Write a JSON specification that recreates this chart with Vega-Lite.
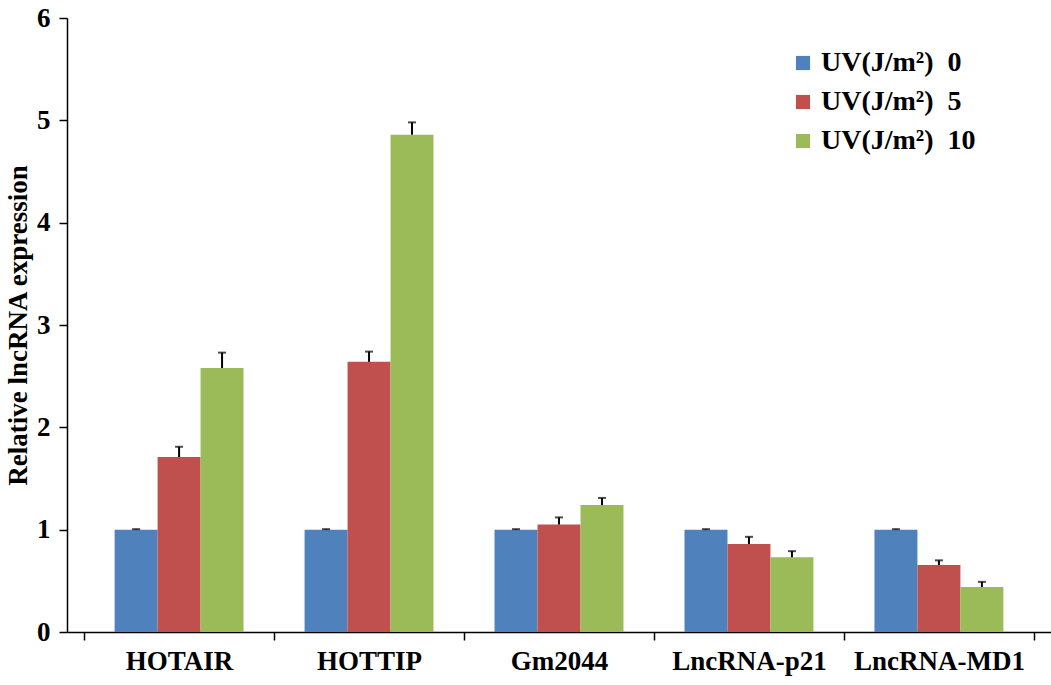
{
  "$schema": "https://vega.github.io/schema/vega-lite/v6.json",
  "width": 984,
  "height": 614,
  "autosize": {"type": "none"},
  "padding": {"left": 67, "top": 18, "right": 0, "bottom": 53},
  "background": "white",
  "config": {
    "view": {"stroke": null},
    "font": "Liberation Serif"
  },
  "data": {
    "values": [
      {"gene": "HOTAIR", "dose": "0", "value": 1.0, "upper": 1.005},
      {"gene": "HOTAIR", "dose": "5", "value": 1.71, "upper": 1.81},
      {"gene": "HOTAIR", "dose": "10", "value": 2.58, "upper": 2.73},
      {"gene": "HOTTIP", "dose": "0", "value": 1.0, "upper": 1.005},
      {"gene": "HOTTIP", "dose": "5", "value": 2.64, "upper": 2.74},
      {"gene": "HOTTIP", "dose": "10", "value": 4.86, "upper": 4.98},
      {"gene": "Gm2044", "dose": "0", "value": 1.0, "upper": 1.005},
      {"gene": "Gm2044", "dose": "5", "value": 1.05, "upper": 1.12},
      {"gene": "Gm2044", "dose": "10", "value": 1.24, "upper": 1.31},
      {"gene": "LncRNA-p21", "dose": "0", "value": 1.0, "upper": 1.005},
      {"gene": "LncRNA-p21", "dose": "5", "value": 0.86, "upper": 0.93},
      {"gene": "LncRNA-p21", "dose": "10", "value": 0.73, "upper": 0.79},
      {"gene": "LncRNA-MD1", "dose": "0", "value": 1.0, "upper": 1.005},
      {"gene": "LncRNA-MD1", "dose": "5", "value": 0.655, "upper": 0.70},
      {"gene": "LncRNA-MD1", "dose": "10", "value": 0.44, "upper": 0.49}
    ]
  },
  "encoding": {
    "x": {
      "field": "gene",
      "type": "nominal",
      "sort": ["HOTAIR", "HOTTIP", "Gm2044", "LncRNA-p21", "LncRNA-MD1"],
      "scale": {"paddingInner": 0, "paddingOuter": 0.09},
      "axis": {
        "title": null,
        "labelAngle": 0,
        "labelFont": "Liberation Serif",
        "labelFontWeight": "bold",
        "labelFontSize": 27,
        "labelColor": "black",
        "labelPadding": 8,
        "tickBand": "extent",
        "tickColor": "black",
        "tickSize": 8,
        "tickWidth": 1.5,
        "domainColor": "black",
        "domainWidth": 1.5
      }
    },
    "xOffset": {
      "field": "dose",
      "type": "nominal",
      "sort": ["0", "5", "10"],
      "scale": {"paddingInner": 0, "paddingOuter": 0.71}
    }
  },
  "layer": [
    {
      "mark": {"type": "bar"},
      "encoding": {
        "y": {
          "field": "value",
          "type": "quantitative",
          "scale": {"domain": [0, 6], "nice": false},
          "axis": {
            "title": "Relative lncRNA expression",
            "titleFont": "Liberation Serif",
            "titleFontWeight": "bold",
            "titleFontSize": 27,
            "titleColor": "black",
            "titlePadding": 4,
            "values": [0, 1, 2, 3, 4, 5, 6],
            "format": "d",
            "grid": false,
            "labelFont": "Liberation Serif",
            "labelFontWeight": "bold",
            "labelFontSize": 27,
            "labelColor": "black",
            "labelPadding": 9,
            "tickColor": "black",
            "tickSize": 8,
            "tickWidth": 1.5,
            "domainColor": "black",
            "domainWidth": 1.5
          }
        },
        "color": {
          "field": "dose",
          "type": "nominal",
          "sort": ["0", "5", "10"],
          "scale": {"domain": ["0", "5", "10"], "range": ["#4F81BD", "#C0504D", "#9BBB59"]},
          "legend": {
            "title": null,
            "orient": "none",
            "legendX": 722,
            "legendY": 31,
            "symbolType": "square",
            "symbolSize": 200,
            "symbolStrokeWidth": 0,
            "rowPadding": 11,
            "labelFont": "Liberation Serif",
            "labelFontWeight": "bold",
            "labelFontSize": 28,
            "labelColor": "black",
            "labelOffset": 4,
            "labelLimit": 300,
            "labelExpr": "'UV(J/m²)\u00a0\u00a0' + datum.label"
          }
        }
      }
    },
    {
      "mark": {"type": "rule", "color": "black", "strokeWidth": 2},
      "encoding": {
        "y": {"field": "value", "type": "quantitative"},
        "y2": {"field": "upper"}
      }
    },
    {
      "mark": {"type": "tick", "color": "black", "thickness": 2, "size": 8, "orient": "horizontal"},
      "encoding": {
        "y": {"field": "upper", "type": "quantitative"}
      }
    }
  ]
}
